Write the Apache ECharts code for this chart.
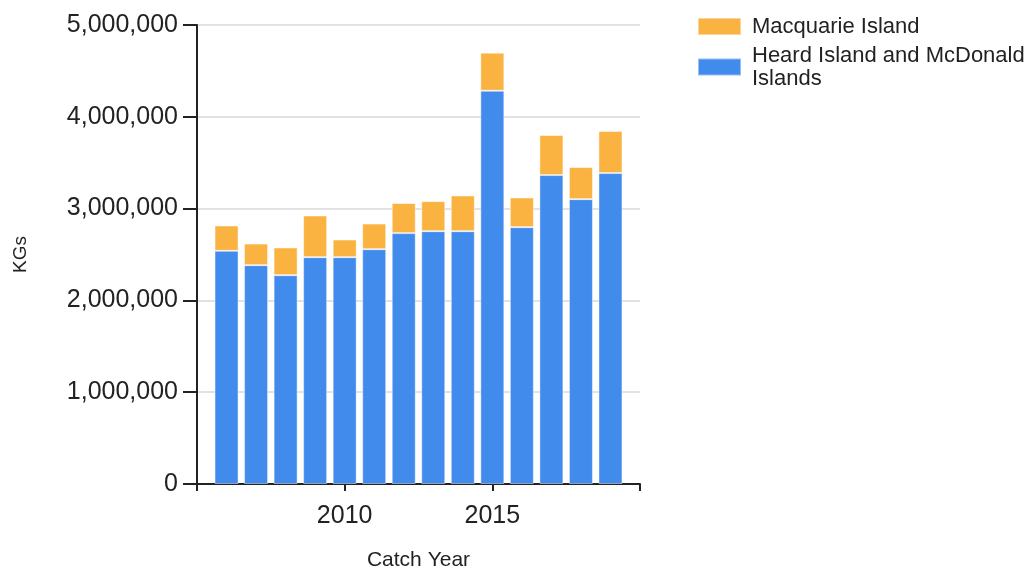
<!DOCTYPE html>
<html>
<head>
<meta charset="utf-8">
<script src="https://cdn.jsdelivr.net/npm/echarts@6/dist/echarts.min.js"></script>
<style>
    html,body{margin:0;padding:0;background:#fff;}
    #main{width:1030px;height:569px;}
</style>
</head>
<body>
<div id="main"></div>
<script>
// catch by year, kg
var years = [2006, 2007, 2008, 2009, 2010, 2011, 2012, 2013, 2014, 2015, 2016, 2017, 2018, 2019];
var heardMcDonald = [2540000, 2384000, 2275000, 2471000, 2471000, 2558000, 2733000, 2754000, 2754000, 4284000, 2798000, 3365000, 3103000, 3387000];
var macquarie = [276000, 235000, 301000, 454000, 192000, 279000, 327000, 327000, 389000, 414000, 323000, 436000, 349000, 458000];
var seriesNames = ["Heard Island and McDonald Islands", "Macquarie Island"];
var legendOrder = ["Macquarie Island", "Heard Island and McDonald Islands"];
var tickYears = [2010, 2015];

var fontFamily = '"Liberation Sans", Arial, sans-serif';
var textColor = "#222";

// axis runs one year either side of the data: 2005 .. 2020
var axisYears = [];
for (var y = years[0] - 1; y <= years[years.length - 1] + 1; y++) axisYears.push(String(y));

function padded(values) {
    var out = [];
    for (var i = 0; i < axisYears.length; i++) {
        var k = years.indexOf(Number(axisYears[i]));
        out.push(k >= 0 ? values[k] : null);
    }
    return out;
}

var chart = echarts.init(document.getElementById("main"));

var option = {
    animation: false,
    textStyle: {fontFamily: fontFamily},
    grid: {left: 197, right: 390, top: 25, bottom: 85, outerBoundsMode: "none", containLabel: false},
    legend: {
        data: legendOrder,
        orient: "vertical",
        left: 692,
        top: 10,
        itemWidth: 43,
        itemHeight: 17,
        itemGap: 6,
        icon: "rect",
        formatter: function (name) {
            if (name == "Heard Island and McDonald Islands") return "Heard Island and McDonald\nIslands";
            return name;
        },
        textStyle: {fontSize: 22, color: textColor, lineHeight: 23, fontFamily: fontFamily, padding: [0, 0, 0, 6]}
    },
    xAxis: {
        type: "category",
        data: axisYears,
        boundaryGap: false,
        name: "Catch Year",
        nameLocation: "middle",
        nameGap: 66,
        nameTextStyle: {fontSize: 21, color: textColor},
        splitLine: {show: false},
        axisLine: {show: true, lineStyle: {color: "#222", width: 2}},
        axisTick: {
            show: true, length: 7, lineStyle: {color: "#222", width: 2},
            interval: function (idx) { return idx % 5 == 0; }
        },
        axisLabel: {
            fontSize: 25, color: textColor, margin: 20,
            interval: function (idx, value) { return tickYears.indexOf(Number(value)) >= 0; }
        }
    },
    yAxis: {
        type: "value",
        min: 0,
        max: 5000000,
        interval: 1000000,
        name: "KGs",
        nameLocation: "middle",
        nameGap: 167,
        nameRotate: 90,
        nameTextStyle: {fontSize: 19, color: textColor},
        axisLine: {show: true, lineStyle: {color: "#222", width: 2}},
        axisTick: {show: true, length: 14, lineStyle: {color: "#222", width: 2}},
        axisLabel: {
            fontSize: 25, color: textColor, margin: 19,
            formatter: function (v) { return v.toLocaleString("en-US"); }
        },
        splitLine: {show: true, lineStyle: {color: "#e2e2e2", width: 2}}
    },
    series: [
        {
            name: seriesNames[0],
            type: "bar",
            stack: "catch",
            barWidth: 24,
            data: padded(heardMcDonald),
            itemStyle: {color: "#418bed", borderColor: "rgba(255,255,255,0.45)", borderWidth: 1}
        },
        {
            name: seriesNames[1],
            type: "bar",
            stack: "catch",
            barWidth: 24,
            data: padded(macquarie),
            itemStyle: {color: "#fab240", borderColor: "rgba(255,255,255,0.45)", borderWidth: 1}
        }
    ]
};

chart.setOption(option);
</script>
</body>
</html>
